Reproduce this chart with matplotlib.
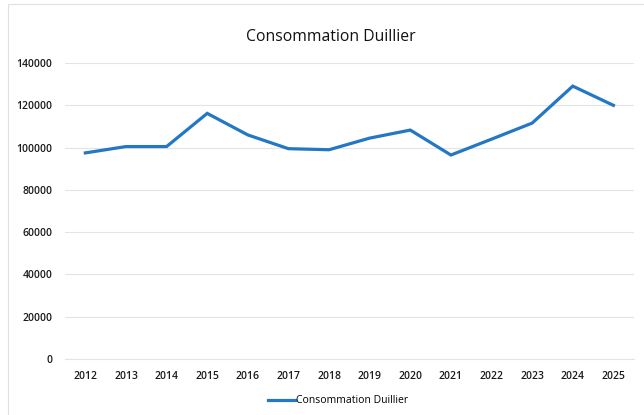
import matplotlib
matplotlib.use("Agg")
import matplotlib.pyplot as plt
from matplotlib.patches import Rectangle

years = ["2012", "2013", "2014", "2015", "2016", "2017", "2018",
         "2019", "2020", "2021", "2022", "2023", "2024", "2025"]
consommation = [97500, 100500, 100500, 116200, 106000, 99500, 99000,
                104500, 108300, 96500, 104000, 111600, 129100, 120000]
yticks = [0, 20000, 40000, 60000, 80000, 100000, 120000, 140000]
series_name = "Consommation Duillier"

plt.rcParams['font.family'] = ['Open Sans', 'DejaVu Sans']

fig = plt.figure(figsize=(6.44, 4.15), dpi=100)
ax = fig.add_axes([0.101, 0.135, 0.883, 0.713])

x = list(range(len(years)))
line, = ax.plot(x, consommation, color="#2477c4", linewidth=2.3,
                solid_joinstyle="miter", label=series_name)

ax.set_xlim(-0.5, len(years) - 0.5)
ax.set_ylim(0, 140000)
ax.set_yticks(yticks)
ax.set_yticklabels([str(v) for v in yticks], fontsize=7.5, color="#1a1a1a",
                   fontweight="semibold")
ax.set_xticks(x)
ax.set_xticklabels(years, fontsize=7.5, color="#1a1a1a", fontweight="semibold")

ax.grid(axis="y", color="#e4e4e4", linewidth=0.8)
ax.set_axisbelow(True)
for s in ["top", "right", "left"]:
    ax.spines[s].set_visible(False)
ax.spines["bottom"].set_color("#e4e4e4")
ax.spines["bottom"].set_linewidth(0.8)
ax.tick_params(axis="both", length=0, pad=9)

fig.text(0.514, 0.91, "Consommation Duillier", ha="center", va="center",
         fontsize=11.3, color="#111111", fontweight="medium")

fig.legend(handles=[line], loc="center", bbox_to_anchor=(0.525, 0.034),
           frameon=False, fontsize=7.5, handlelength=2.6, handletextpad=0.1)

fig.patches.append(Rectangle((0.012, -0.1), 1.2, 1.09, transform=fig.transFigure,
                             fill=False, edgecolor="#e0e0e0", linewidth=0.8))

fig.savefig("out.png", dpi=100)
